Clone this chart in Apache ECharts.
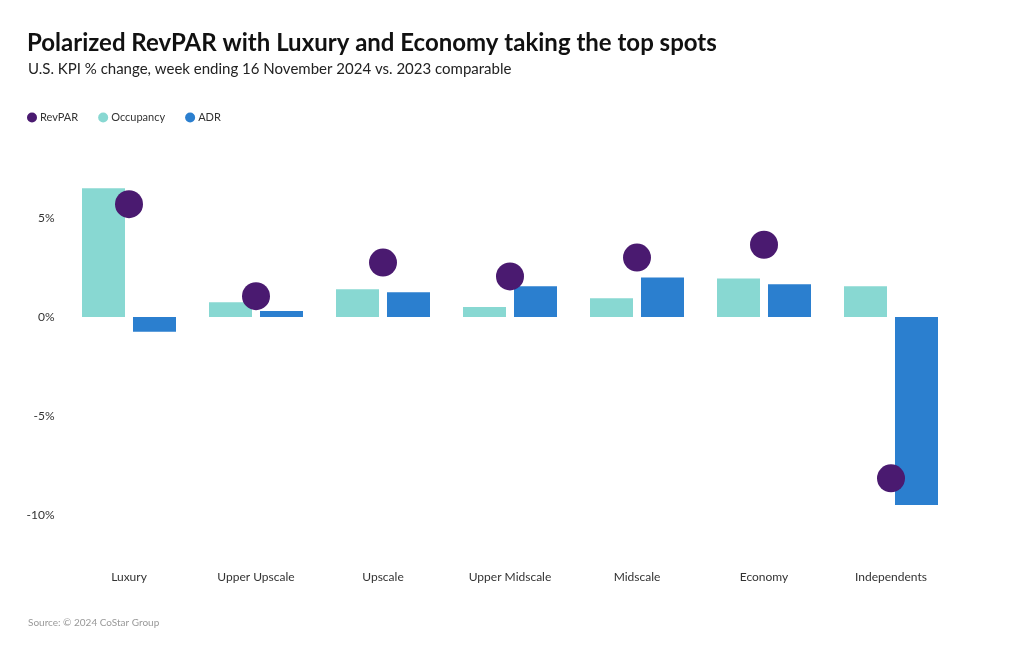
<!DOCTYPE html>
<html>
<head>
<meta charset="utf-8">
<script src="https://cdn.jsdelivr.net/npm/echarts@6/dist/echarts.min.js"></script>
<style>html,body{margin:0;padding:0;background:#fff}#c{width:1020px;height:650px}</style>
</head>
<body>
<div id="c"></div>
<script>
const categories = ['Luxury', 'Upper Upscale', 'Upscale', 'Upper Midscale', 'Midscale', 'Economy', 'Independents'];
const revpar = [5.7, 1.05, 2.75, 2.05, 3.0, 3.65, -8.15];
const occupancy = [6.5, 0.75, 1.4, 0.5, 0.95, 1.95, 1.55];
const adr = [-0.75, 0.3, 1.25, 1.55, 2.0, 1.65, -9.5];
const yTicks = [-10, -5, 0, 5];

const FONT = 'Lato';
const chart = echarts.init(document.getElementById('c'), null, {renderer: 'canvas'});
chart.setOption({
  backgroundColor: '#ffffff',
  animation: false,
  textStyle: {fontFamily: FONT},
  title: [
    {text: 'Polarized RevPAR with Luxury and Economy taking the top spots', left: 27, top: 31, padding: 0,
     textStyle: {fontFamily: FONT, fontSize: 24, fontWeight: 'bold', color: '#111'}},
    {text: 'U.S. KPI % change, week ending 16 November 2024 vs. 2023 comparable', left: 28, top: 62, padding: 0,
     textStyle: {fontFamily: FONT, fontSize: 15, fontWeight: 'normal', color: '#222'}},
    {text: 'Source: © 2024 CoStar Group', left: 28, top: 618, padding: 0,
     textStyle: {fontFamily: FONT, fontSize: 10, fontWeight: 'normal', color: '#999'}}
  ],
  legend: {
    left: 27, top: 112, padding: 0, icon: 'circle', itemWidth: 10, itemHeight: 10, itemGap: 20,
    textStyle: {fontFamily: FONT, fontSize: 11, color: '#333', padding: [0, 0, 0, -2]},
    data: ['RevPAR', 'Occupancy', 'ADR']
  },
  grid: {left: 65.5, right: 65.5, top: 168.5, bottom: 85.5, containLabel: false},
  xAxis: {
    type: 'category', data: categories,
    axisLine: {show: false}, axisTick: {show: false},
    axisLabel: {fontFamily: FONT, fontSize: 12, color: '#333', margin: 7}
  },
  yAxis: {
    type: 'value', min: -12.5, max: 7.5, interval: 2.5,
    splitLine: {show: false}, axisLine: {show: false}, axisTick: {show: false},
    axisLabel: {
      fontFamily: FONT, fontSize: 12, color: '#333', margin: 11,
      formatter: v => yTicks.indexOf(v) >= 0 ? v + '%' : ''
    }
  },
  series: [
    {name: 'Occupancy', type: 'bar', data: occupancy, barWidth: 43, barGap: '18.6%',
     itemStyle: {color: '#88d8d2'}},
    {name: 'ADR', type: 'bar', data: adr, barWidth: 43,
     itemStyle: {color: '#2b7fcf'}},
    {name: 'RevPAR', type: 'scatter', data: revpar, symbolSize: 28, z: 5,
     itemStyle: {color: '#4a1a70', opacity: 1}}
  ]
});
</script>
</body>
</html>
